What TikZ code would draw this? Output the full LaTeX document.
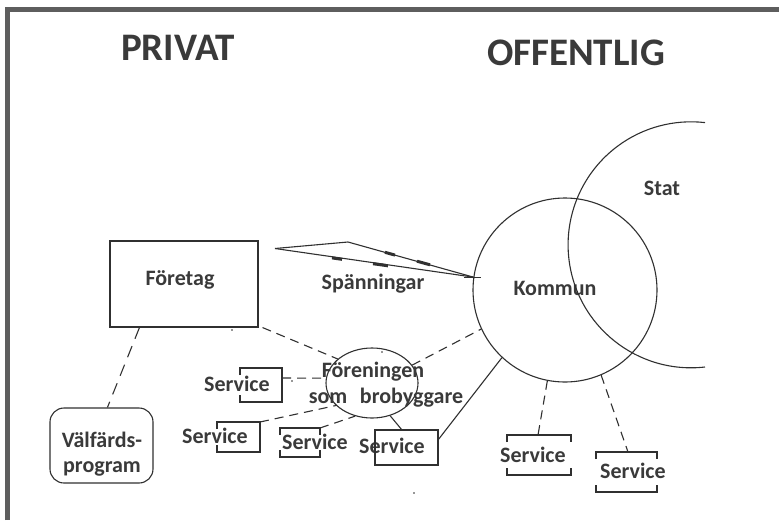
\documentclass[tikz,border=0pt]{standalone}
\usepackage{fontspec}
\setmainfont{Carlito}
\usetikzlibrary{shapes.geometric,calc}
\definecolor{ink}{HTML}{303030}
\definecolor{txt}{HTML}{3A3A3A}
\definecolor{framec}{HTML}{5E5E5E}
\begin{document}
\begin{tikzpicture}[x=1pt,y=-1pt,
  lbl/.style={font=\fontsize{22}{25}\selectfont\bfseries, text=txt, inner sep=0pt, anchor=base},
  head/.style={font=\fontsize{39}{42}\selectfont\bfseries, text=txt, inner sep=0pt, anchor=base},
  ln/.style={draw=ink, line width=1.1pt},
  dsh/.style={ln, dash pattern=on 9pt off 6pt},
  bold/.style={draw=ink, line width=3pt},
  dotmark/.style={fill=ink, circle, inner sep=0pt, minimum size=1.8pt},
]
\useasboundingbox (0,0) rectangle (779,520);
\fill[white] (0,0) rectangle (779,520);
\draw[framec, line width=5pt] (7.5,520) -- (7.5,9.5) -- (779,9.5);

% headings
\node[head] (privat) at (178,60) {PRIVAT};
\node[head] (offentlig) at (576,65) {OFFENTLIG};

% main shapes
\node[ln, rectangle, minimum width=148pt, minimum height=86pt, inner sep=0pt] (foretag) at (184,284) {};
\node[lbl] (foretagT) at (180,285) {Företag};

\node[ln, rectangle, rounded corners=14pt, minimum width=103pt, minimum height=75pt, inner sep=0pt] (valf) at (101.5,445.5) {};
\node[lbl] (valfT1) at (102,447) {Välfärds-};
\node[lbl] (valfT2) at (102,472) {program};

\node[ln, circle, minimum size=184pt, inner sep=0pt] (kommun) at (565,290) {};
\node[lbl] (kommunT) at (555,295) {Kommun};

\coordinate (statC) at (691,245);
\draw[ln] (705,367) arc[start angle=-83.5, end angle=-276.5, radius=123pt];
\node[lbl] (statT) at (662,195) {Stat};

\node[ln, ellipse, minimum width=92pt, minimum height=70pt, inner sep=0pt] (foren) at (372,383) {};
\node[lbl] (forenT1) at (373,377) {Föreningen};
\node[lbl] (forenT2) at (386,403) {som\hspace{0.35em} brobyggare};

% Spänningar sliver
\coordinate (spL) at (275,248.5);
\coordinate (spT) at (348,242);
\draw[ln] (spL) -- (spT) -- (kommun.172);
\draw[ln] (spL) -- (kommun.172);
\draw[bold] (332,257.9) -- (342,259.3);
\draw[bold] (373,263.7) -- (388,265.8);
\draw[bold] (385,252.3) -- (395,255.1);
\draw[bold] (417,261.2) -- (430,264.8);
\draw[draw=ink, line width=1.6pt] (464,277.5) -- (481,277.5);
\node[lbl] (spT) at (373,289) {Spänningar};

% Service boxes
\node[lbl] (s1) at (237,391) {Service};
\draw[ln] (240,375) -- (240,368) -- (282,368) -- (282,402) -- (240,402) -- (240,395);
\coordinate (s1r) at (282,378);

\node[lbl] (s2) at (215,443) {Service};
\draw[ln] (217,429) -- (217,422) -- (260,422) -- (260,452) -- (217,452) -- (217,445);
\coordinate (s2c) at (260,422);

\node[lbl] (s3) at (315,449) {Service};
\draw[ln] (280,435) -- (280,428) -- (320,428) -- (320,435);
\draw[ln] (280,450) -- (280,457) -- (320,457) -- (320,450);
\coordinate (s3c) at (320,428);

\node[lbl] (s4) at (392,453) {Service};
\draw[ln] (375,430) rectangle (438,465);
\coordinate (s4t) at (402,430);
\coordinate (s4r) at (438,440);

\node[lbl] (s5) at (533,462) {Service};
\draw[ln] (507,442) -- (507,435) -- (571,435) -- (571,442);
\draw[ln] (507,468) -- (507,475) -- (571,475) -- (571,468);
\coordinate (s5t) at (538,435);

\node[lbl] (s6) at (633,478) {Service};
\draw[ln] (596,459) -- (596,452) -- (657,452) -- (657,459);
\draw[ln] (596,485) -- (596,492) -- (657,492) -- (657,485);
\coordinate (s6t) at (628,452);

% connectors
\draw[ln, dash pattern=on 12pt off 8pt] ($(foretag.south west)+(30,0)$) -- ($(valf.north west)+(58,0)$);
\draw[dsh] ($(foretag.south east)+(4,0)$) -- (foren.145);
\draw[dsh] (s1r) -- (foren.174);
\draw[dsh] (s2c) -- (foren.212);
\draw[dsh] (s3c) -- (foren.243);
\draw[ln] (foren.299) -- (s4t);
\draw[ln] (s4r) -- (kommun.227);
\draw[dsh] (foren.24) -- (kommun.205);
\draw[dsh] (kommun.259) -- (s5t);
\draw[dsh] (kommun.293) -- (s6t);

% stray dots
\node[dotmark] (d1) at (232,330) {};
\node[dotmark] (d2) at (382,352) {};
\node[dotmark] (d3) at (292,381) {};
\node[dotmark] (d4) at (414,493) {};
\end{tikzpicture}
\end{document}
